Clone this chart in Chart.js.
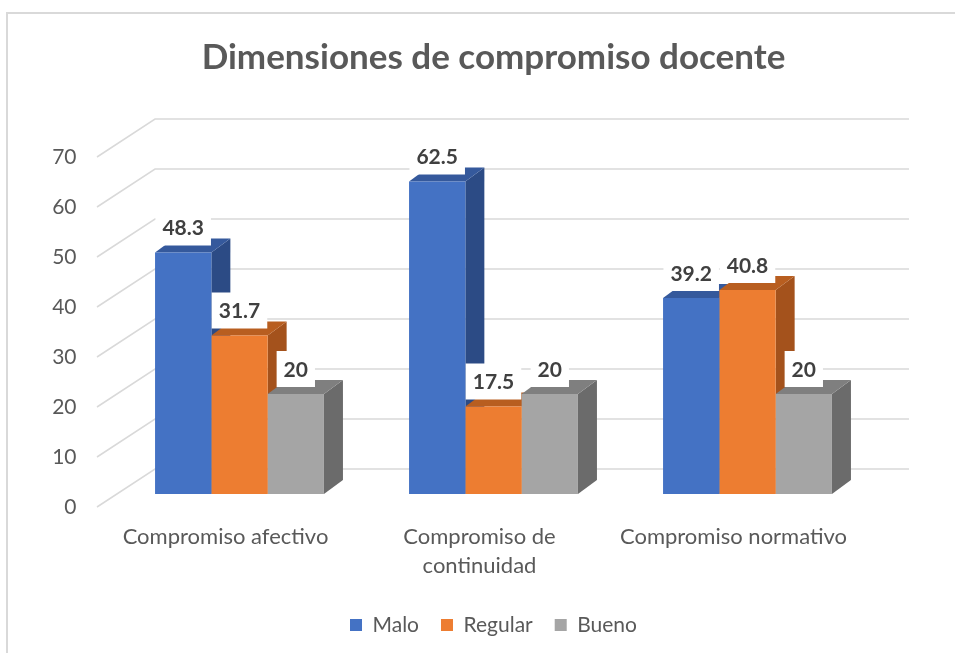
<!DOCTYPE html>
<html>
<head>
<meta charset="utf-8">
<script src="https://cdn.jsdelivr.net/npm/chart.js@4.4.0/dist/chart.umd.min.js"></script>
<style>
html, body { margin: 0; padding: 0; background: #fff; overflow: hidden; }
#marco { position: absolute; left: 6px; top: 12px; width: 1000px; height: 700px; border: 2px solid #d9d9d9; }
#caja { position: absolute; left: 0; top: 0; width: 955px; height: 653px; }
</style>
</head>
<body>
<div id="marco"></div>
<div id="caja"><canvas id="grafico"></canvas></div>
<script>
var categorias = ['Compromiso afectivo', ['Compromiso de', 'continuidad'], 'Compromiso normativo'];
var malo = [48.3, 62.5, 39.2];
var regular = [31.7, 17.5, 40.8];
var bueno = [20, 20, 20];
var ticksY = [0, 10, 20, 30, 40, 50, 60, 70];

// profundidad del efecto 3D
var dx = 19, dy = -14;
var colorFrente = ['#4472c4', '#ed7d31', '#a5a5a5'];
var colorLado = ['#2c4b85', '#a4521c', '#6b6b6b'];
var colorArriba = ['#35599c', '#b85e20', '#7f7f7f'];

Chart.defaults.font.family = 'Lato';
Chart.defaults.color = '#595959';

const barras3d = {
    id: 'barras3d',
    beforeDatasetsDraw(chart) {
        const ctx = chart.ctx;
        const area = chart.chartArea;
        const y = chart.scales.y;
        ctx.save();
        // lineas de la pared del fondo
        ctx.strokeStyle = '#d9d9d9';
        ctx.lineWidth = 1.5;
        ticksY.forEach(function (v) {
            const py = y.getPixelForValue(v);
            ctx.beginPath();
            ctx.moveTo(area.left - 15.5, py + 13);
            ctx.lineTo(area.left + 42.5, py - 25);
            ctx.lineTo(area.right + 34.5, py - 25);
            ctx.stroke();
        });
        // caras laterales y superiores
        chart.data.datasets.forEach(function (ds, i) {
            chart.getDatasetMeta(i).data.forEach(function (bar) {
                const l = bar.x - bar.width / 2;
                const r = bar.x + bar.width / 2;
                ctx.fillStyle = colorLado[i];
                ctx.beginPath();
                ctx.moveTo(r, bar.y);
                ctx.lineTo(r + dx, bar.y + dy);
                ctx.lineTo(r + dx, bar.base + dy);
                ctx.lineTo(r, bar.base);
                ctx.closePath();
                ctx.fill();
                ctx.fillStyle = colorArriba[i];
                ctx.beginPath();
                ctx.moveTo(l, bar.y);
                ctx.lineTo(l + dx, bar.y + dy);
                ctx.lineTo(r + dx, bar.y + dy);
                ctx.lineTo(r, bar.y);
                ctx.closePath();
                ctx.fill();
            });
        });
        ctx.restore();
    },
    afterDatasetsDraw(chart) {
        const ctx = chart.ctx;
        ctx.save();
        ctx.font = 'bold 21px Lato';
        ctx.textAlign = 'center';
        ctx.textBaseline = 'middle';
        chart.data.datasets.forEach(function (ds, i) {
            chart.getDatasetMeta(i).data.forEach(function (bar, j) {
                const txt = String(ds.data[j]);
                const w = ctx.measureText(txt).width;
                const cy = bar.y - 25;
                ctx.fillStyle = '#ffffff';
                ctx.fillRect(bar.x - w / 2 - 7, cy - 18, w + 14, 36);
                ctx.fillStyle = '#404040';
                ctx.fillText(txt, bar.x, cy + 1);
            });
        });
        ctx.restore();
    }
};

var ctx = document.getElementById('grafico').getContext('2d');
var grafico = new Chart(ctx, {
    type: 'bar',
    data: {
        labels: categorias,
        datasets: [
            { label: 'Malo', data: malo, backgroundColor: colorFrente[0] },
            { label: 'Regular', data: regular, backgroundColor: colorFrente[1] },
            { label: 'Bueno', data: bueno, backgroundColor: colorFrente[2] }
        ]
    },
    options: {
        responsive: true,
        maintainAspectRatio: false,
        animation: false,
        layout: { padding: { left: 0, right: 80.5, top: 0, bottom: 7.5 } },
        datasets: { bar: { categoryPercentage: 0.665, barPercentage: 1.0, borderWidth: 0 } },
        plugins: {
            title: {
                display: true,
                fullSize: false,
                text: 'Dimensiones de compromiso docente',
                color: '#595959',
                font: { size: 35, weight: 'bold' },
                padding: { top: 37, bottom: 65 }
            },
            legend: {
                position: 'bottom',
                fullSize: false,
                labels: { boxWidth: 12, boxHeight: 12, padding: 22, color: '#595959', font: { size: 21 } }
            },
            tooltip: { enabled: false }
        },
        scales: {
            x: {
                grid: { display: false, drawTicks: false },
                border: { display: false },
                ticks: { padding: 28.5, labelOffset: -14, maxRotation: 0, autoSkip: false, color: '#595959', font: { size: 22, lineHeight: 1.32 } },
                afterFit: function (scale) { scale.height = 98.5; }
            },
            y: {
                min: 0,
                max: 70,
                grid: { display: false, drawTicks: false },
                border: { display: false },
                afterBuildTicks: function (scale) { scale.ticks = ticksY.map(function (v) { return { value: v }; }); },
                ticks: { padding: 36, labelOffset: 13, color: '#595959', font: { size: 21 } },
                afterFit: function (scale) { scale.width = 112.5; }
            }
        }
    },
    plugins: [barras3d]
});
</script>
</body>
</html>
